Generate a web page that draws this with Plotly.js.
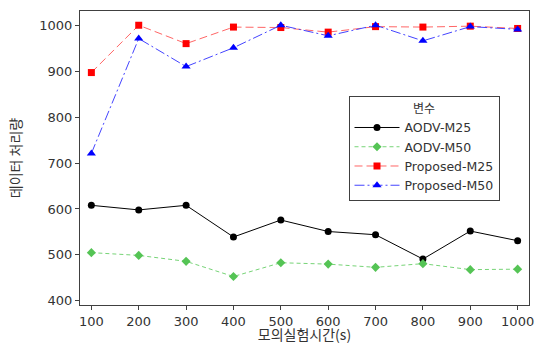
<!DOCTYPE html>
<html>
<head>
<meta charset="utf-8">
<script src="https://cdn.plot.ly/plotly-3.0.1.min.js"></script>
<style>html,body{margin:0;padding:0;background:#fff;}#chart{width:540px;height:344px;}</style>
</head>
<body>
<div id="chart"></div>
<script>
const times = [100, 200, 300, 400, 500, 600, 700, 800, 900, 1000];
const aodvM25 = [608, 598, 608, 539, 576, 551, 544, 491, 552, 531];
const aodvM50 = [505, 499, 486, 453, 483, 480, 473, 481, 468, 469];
const propM25 = [897, 1000, 960, 996, 995, 985, 997, 996, 998, 993];
const propM50 = [721, 971, 910, 951, 1000, 977, 1000, 966, 997, 991];
const seriesNames = ['AODV-M25', 'AODV-M50', 'Proposed-M25', 'Proposed-M50'];
const xTicks = times;
const yTicks = [400, 500, 600, 700, 800, 900, 1000];
const xTitle = '모의실험시간(s)';
const yTitle = '데이터 처리량';

const font = '"DejaVu Sans", "Noto Sans CJK KR", sans-serif';
const cjk = '"Noto Sans CJK KR", "DejaVu Sans", sans-serif';
const txt = '#333333';
const traces = [
  {x: times, y: aodvM25, name: seriesNames[0], mode: 'lines+markers',
   line: {color: '#000000', width: 1, dash: 'solid'}, marker: {symbol: 'circle', size: 7, color: '#000000'}},
  {x: times, y: aodvM50, name: seriesNames[1], mode: 'lines+markers',
   line: {color: '#77d477', width: 1, dash: '4px,3px'}, marker: {symbol: 'diamond', size: 7, color: '#55c455'}},
  {x: times, y: propM25, name: seriesNames[2], mode: 'lines+markers',
   line: {color: '#ff6666', width: 1, dash: '8px,4px'}, marker: {symbol: 'square', size: 7, color: '#ff0000'}},
  {x: times, y: propM50, name: seriesNames[3], mode: 'lines+markers',
   line: {color: '#4444ff', width: 1, dash: '10px,3px,2px,3px'}, marker: {symbol: 'triangle-up', size: 8, color: '#0000ff'}}
];

const layout = {
  width: 540, height: 344,
  margin: {l: 80, r: 11, t: 11, b: 39},
  paper_bgcolor: '#ffffff', plot_bgcolor: '#ffffff',
  font: {family: font, size: 13, color: txt},
  showlegend: true,
  legend: {
    x: 0.598, y: 0.71, xanchor: 'left', yanchor: 'top',
    bordercolor: '#404040', borderwidth: 1, bgcolor: '#ffffff',
    font: {family: font, size: 12.5, color: txt},
    title: {text: '변수', side: 'top center', font: {family: cjk, size: 12, color: txt}},
    tracegroupgap: 0, itemwidth: 45
  },
  xaxis: {
    range: [76, 1024], tickvals: xTicks, ticktext: xTicks.map(String),
    showgrid: false, zeroline: false, showline: true, mirror: true,
    linecolor: '#404040', linewidth: 1, ticks: 'outside', ticklen: 4, tickcolor: '#404040',
    tickfont: {family: font, size: 13, color: txt},
    title: {text: xTitle, standoff: 3, font: {family: cjk, size: 14, color: txt}}
  },
  yaxis: {
    range: [391, 1031], tickvals: yTicks, ticktext: yTicks.map(String),
    showgrid: false, zeroline: false, showline: true, mirror: true,
    linecolor: '#404040', linewidth: 1, ticks: 'outside', ticklen: 4, tickcolor: '#404040',
    tickfont: {family: font, size: 13, color: txt},
    title: {text: yTitle, standoff: 14, font: {family: cjk, size: 14, color: txt}}
  }
};

Plotly.newPlot('chart', traces, layout, {staticPlot: true, displayModeBar: false});
</script>
</body>
</html>
